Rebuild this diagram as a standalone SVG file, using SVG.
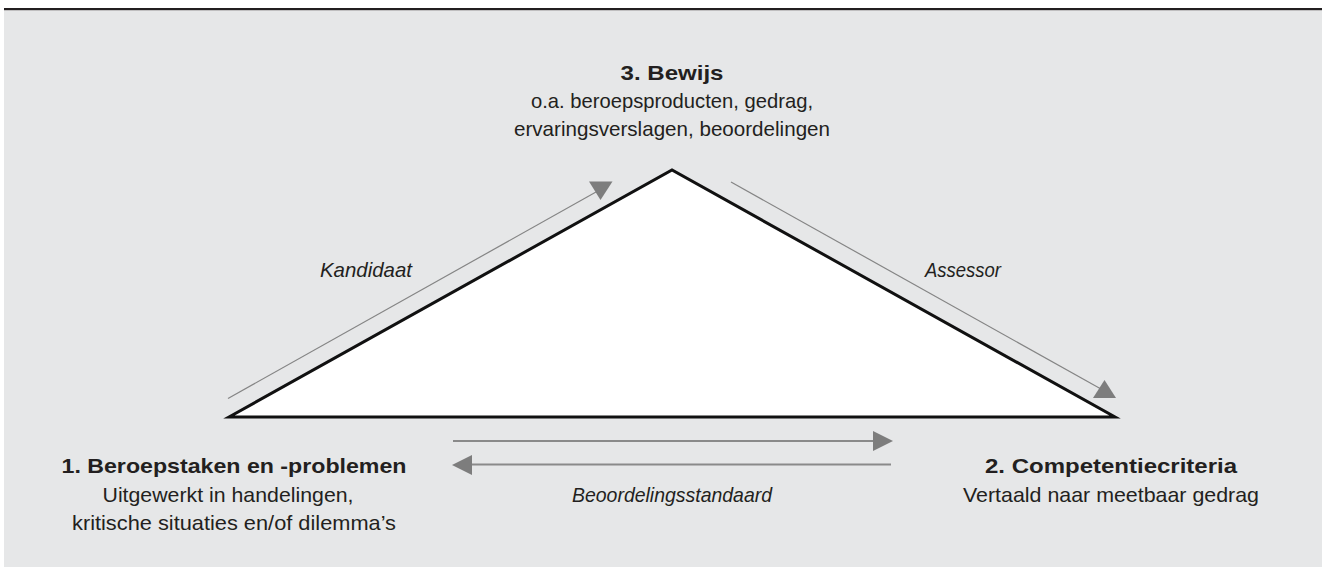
<svg xmlns="http://www.w3.org/2000/svg" width="1322" height="567" viewBox="0 0 1322 567">
<style>
  .t { font-family: "Liberation Sans", Arial, sans-serif; font-size: 21px; fill: #231f20; text-anchor: middle; }
  .b { font-weight: bold; }
  .i { font-style: italic; }
  .thin { stroke: #858585; stroke-width: 1.2; fill: none; }
  .thick { stroke: #8a8a8a; stroke-width: 1.8; fill: none; }
  .head { fill: #7d7d7d; stroke: none; }
</style>
<rect x="4" y="9" width="1318" height="558" fill="#e6e7e8"/>
<rect x="4" y="8" width="1318" height="2.2" fill="#231f20"/>

<g id="triangle">
  <polygon points="229,417 672,170 1115,417" fill="#ffffff" stroke="#111111" stroke-width="3" stroke-linejoin="miter"/>
</g>

<g id="connectors">
  <line class="thin" x1="228" y1="398.5" x2="596" y2="192"/>
  <polygon class="head" points="589,181.5 612.5,181.5 600.5,200"/>
  <line class="thin" x1="731" y1="182" x2="1101" y2="389"/>
  <polygon class="head" points="1093,398 1116,398 1104.5,380"/>
  <line class="thick" x1="453" y1="441" x2="875" y2="441"/>
  <polygon class="head" points="873,431 893,441 873,451"/>
  <line class="thick" x1="891" y1="464.5" x2="470" y2="464.5"/>
  <polygon class="head" points="472,455 452,465 472,475"/>
</g>

<g id="node-bewijs">
  <text class="t b" x="672" y="80" textLength="103" lengthAdjust="spacingAndGlyphs">3. Bewijs</text>
  <text class="t" x="672" y="108" textLength="282" lengthAdjust="spacingAndGlyphs">o.a. beroepsproducten, gedrag,</text>
  <text class="t" x="672" y="136" textLength="316" lengthAdjust="spacingAndGlyphs">ervaringsverslagen, beoordelingen</text>
</g>

<g id="node-beroepstaken">
  <text class="t b" x="234" y="473" textLength="345" lengthAdjust="spacingAndGlyphs">1. Beroepstaken en -problemen</text>
  <text class="t" x="228" y="501.5" textLength="251" lengthAdjust="spacingAndGlyphs">Uitgewerkt in handelingen,</text>
  <text class="t" x="234" y="530" textLength="324" lengthAdjust="spacingAndGlyphs">kritische situaties en/of dilemma’s</text>
</g>

<g id="node-competentie">
  <text class="t b" x="1111" y="473" textLength="252" lengthAdjust="spacingAndGlyphs">2. Competentiecriteria</text>
  <text class="t" x="1111" y="502" textLength="296" lengthAdjust="spacingAndGlyphs">Vertaald naar meetbaar gedrag</text>
</g>

<g id="labels">
  <text class="t i" x="366" y="277" textLength="92" lengthAdjust="spacingAndGlyphs">Kandidaat</text>
  <text class="t i" x="963" y="277" textLength="76" lengthAdjust="spacingAndGlyphs">Assessor</text>
  <text class="t i" x="672" y="502" textLength="200" lengthAdjust="spacingAndGlyphs">Beoordelingsstandaard</text>
</g>
</svg>
